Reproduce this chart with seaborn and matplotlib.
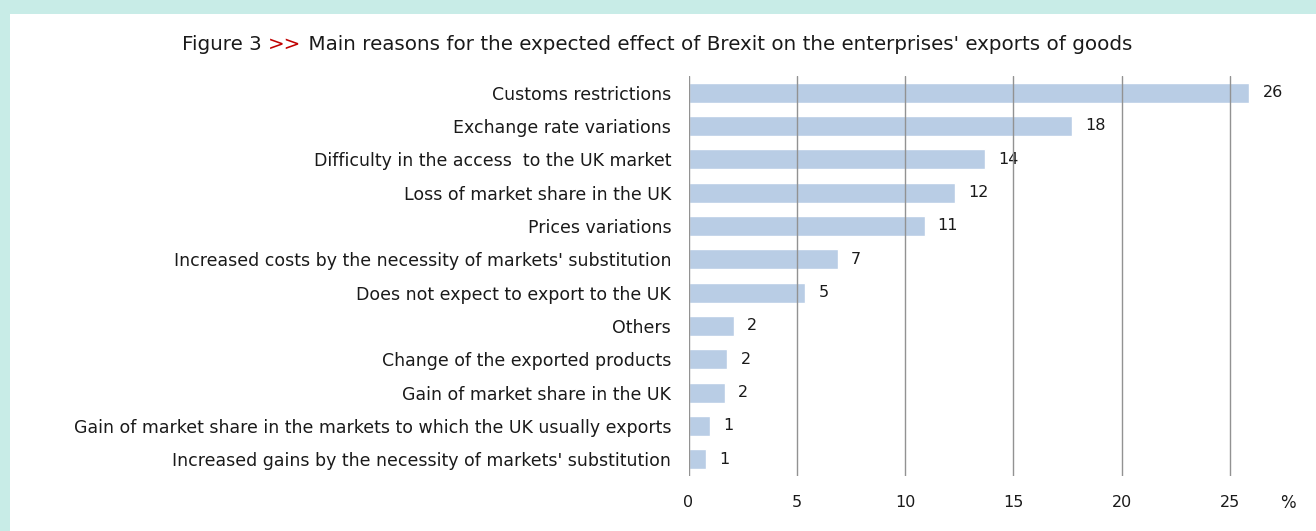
import matplotlib
matplotlib.use("Agg")
import matplotlib.pyplot as plt
import seaborn as sns
import pandas as pd

reasons = [
    "Customs restrictions",
    "Exchange rate variations",
    "Difficulty in the access  to the UK market",
    "Loss of market share in the UK",
    "Prices variations",
    "Increased costs by the necessity of markets' substitution",
    "Does not expect to export to the UK",
    "Others",
    "Change of the exported products",
    "Gain of market share in the UK",
    "Gain of market share in the markets to which the UK usually exports",
    "Increased gains by the necessity of markets' substitution",
]
shares = [25.9, 17.7, 13.7, 12.3, 10.9, 6.9, 5.4, 2.1, 1.8, 1.7, 1.0, 0.8]
x_ticks = [0, 5, 10, 15, 20, 25]

title_parts = [("Figure 3 ", "#1a1a1a"), (">>", "#c00000"),
               (" Main reasons for the expected effect of Brexit on the enterprises' exports of goods", "#1a1a1a")]

sns.set_theme(style="white")
plt.rcParams["font.family"] = ["DejaVu Sans"]

BAR = "#b9cde5"
GRID = "#929292"
TEXT = "#1a1a1a"

df = pd.DataFrame({"reason": reasons, "share": shares})

fig = plt.figure(figsize=(13.16, 5.31), dpi=100, facecolor="#c8ece7")
# white panel behind everything
panel = plt.Rectangle((10 / 1316, 0), 1, 1 - 14 / 531, transform=fig.transFigure,
                      facecolor="white", edgecolor="none", zorder=-10)
fig.patches.append(panel)

ax = fig.add_axes([688.5 / 1316, 1 - 476 / 531, (27.0 * 21.66) / 1316, (476 - 76) / 531])
ax.set_facecolor("none")
sns.barplot(data=df, y="reason", x="share", orient="h", color=BAR, width=0.6,
            saturation=1, ax=ax, zorder=2)
ax.set_xlim(0, 27.0)
ax.set_ylim(len(reasons) - 0.5, -0.5)
ax.set_xticks(x_ticks)
ax.set_xticklabels([str(t) for t in x_ticks], fontsize=11.5, color=TEXT)
ax.tick_params(axis="x", length=0, pad=13.5)
ax.tick_params(axis="y", length=0, pad=12.5, labelsize=12.5, labelcolor=TEXT)
ax.set_xlabel("")
ax.set_ylabel("")
for s in ax.spines.values():
    s.set_visible(False)
for t in x_ticks:
    ax.axvline(t, color=GRID, lw=1.0, zorder=4)

for i, v in enumerate(shares):
    ax.text(v + 0.6, i, f"{v:.0f}", va="center", ha="left", fontsize=11.5, color=TEXT)

fig.text(1288 / 1316, 1 - 503 / 531, "%", ha="center", va="center", fontsize=12, color=TEXT)

# multi-coloured title, laid out piece by piece
fig.canvas.draw()
renderer = fig.canvas.get_renderer()
pieces = []
for txt, col in title_parts:
    pieces.append(fig.text(0, 1 - 44 / 531, txt, color=col, fontsize=14.3, va="center", ha="left"))
widths = [p.get_window_extent(renderer).width for p in pieces]
x = 657 - sum(widths) / 2
for p, w in zip(pieces, widths):
    p.set_x(x / 1316)
    x += w

fig.savefig("out.png", dpi=100, facecolor=fig.get_facecolor())
